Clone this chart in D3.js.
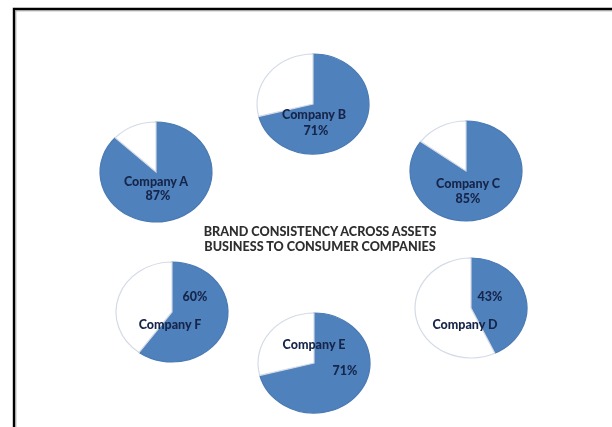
<!DOCTYPE html>
<html>
<head>
<meta charset="utf-8">
<script src="https://cdn.jsdelivr.net/npm/d3@7"></script>
<style>
  html, body { margin: 0; padding: 0; background: #fff; }
  svg { display: block; }
</style>
</head>
<body>
<svg id="chart" width="612" height="427"></svg>
<script>
// Share of assets showing consistent branding, per company
const companies = ["Company A", "Company B", "Company C", "Company D", "Company E", "Company F"];
const consistentPct = [87, 71, 85, 43, 71, 60];
const titleLines = ["BRAND CONSISTENCY ACROSS ASSETS", "BUSINESS TO CONSUMER COMPANIES"];

// Ring layout: where each pie sits, and where its name / value labels go (offsets from pie centre)
const pieLayout = [
  { cx: 156, cy: 172, name: [0, 11], value: [2, 25] },
  { cx: 313, cy: 104, name: [1, 12], value: [3, 28] },
  { cx: 466, cy: 171, name: [2, 14], value: [2, 29] },
  { cx: 471, cy: 308, name: [-6, 18], value: [19, -10] },
  { cx: 314, cy: 363, name: [0, -17], value: [31, 9] },
  { cx: 172, cy: 312, name: [-2, 14], value: [23, -14] }
];

const svg = d3.select("#chart");
const W = 612, H = 427;

// Frame
svg.append("rect").attr("x", 0).attr("y", 0).attr("width", W).attr("height", H).attr("fill", "#fff");
svg.append("path")
  .attr("d", `M14,${H} L14,9 L${W},9`)
  .attr("fill", "none").attr("stroke", "#000").attr("stroke-width", 2.4);
svg.append("path")
  .attr("d", `M15.8,${H} L15.8,10.8 L${W},10.8`)
  .attr("fill", "none").attr("stroke", "#9a9a9a").attr("stroke-width", 1);

const rx = 56, ry = 50;
const pie = d3.pie().sort(null).value(d => d);
const arc = d3.arc().innerRadius(0).outerRadius(rx);

const blue = "#4f81bd";
const fillScale = d3.scaleOrdinal().domain([0, 1]).range([blue, "#ffffff"]);

const defs = svg.append("defs");
defs.append("filter").attr("id", "soft")
  .append("feGaussianBlur").attr("stdDeviation", 0.45);
defs.append("filter").attr("id", "softText")
  .append("feGaussianBlur").attr("stdDeviation", 0.3);

const groups = svg.selectAll("g.pie")
  .data(companies.map((name, i) => ({ name, pct: consistentPct[i], lay: pieLayout[i] })))
  .join("g")
  .attr("class", "pie")
  .attr("transform", d => `translate(${d.lay.cx},${d.lay.cy})`);

const fontFamily = "Lato, 'Open Sans', sans-serif";

groups.each(function (d) {
  const g = d3.select(this);
  const slices = pie([d.pct, 100 - d.pct]);
  const shape = g.append("g")
    .attr("transform", `scale(1,${ry / rx})`)
    .attr("filter", "url(#soft)");
  shape.selectAll("path")
    .data(slices)
    .join("path")
    .attr("d", arc)
    .attr("fill", (s, j) => fillScale(j))
    .attr("stroke", (s, j) => j === 0 ? "#4a7ab3" : "#d4dbe6")
    .attr("stroke-width", 1.2)
    .attr("vector-effect", "non-scaling-stroke");

  const labelStyle = sel => sel
    .attr("text-anchor", "middle")
    .attr("dominant-baseline", "middle")
    .attr("font-family", fontFamily)
    .attr("font-weight", 900)
    .attr("font-size", "12.5px")
    .attr("fill", "#16254a")
    .attr("filter", "url(#softText)");

  g.append("text").call(labelStyle)
    .attr("x", d.lay.name[0]).attr("y", d.lay.name[1])
    .text(d.name);
  g.append("text").call(labelStyle)
    .attr("x", d.lay.value[0]).attr("y", d.lay.value[1])
    .text(d3.format(".0f")(d.pct) + "%");
});

// Centre title
svg.append("g")
  .selectAll("text")
  .data(titleLines)
  .join("text")
  .attr("x", 320)
  .attr("y", (t, i) => 233 + i * 15)
  .attr("text-anchor", "middle")
  .attr("dominant-baseline", "middle")
  .attr("font-family", fontFamily)
  .attr("font-weight", 900)
  .attr("font-size", "12.6px")
  .attr("fill", "#2e2e2e")
  .attr("filter", "url(#softText)")
  .text(t => t);
</script>
</body>
</html>
